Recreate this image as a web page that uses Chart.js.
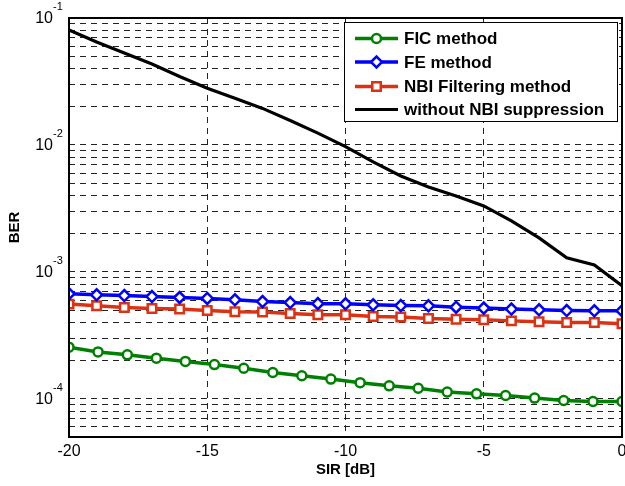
<!DOCTYPE html>
<html>
<head>
<meta charset="utf-8">
<script src="https://cdn.jsdelivr.net/npm/chart.js@4"></script>
<style>
html,body{margin:0;padding:0;background:#fff;}
canvas{display:block;}
</style>
</head>
<body>
<canvas id="c" width="625" height="486"></canvas>
<script>
// ---- data ----
const sirDb = [-20,-19,-18,-17,-16,-15,-14,-13,-12,-11,-10,-9,-8,-7,-6,-5,-4,-3,-2,-1,0];
const ficSir = [-20,-18.95,-17.89,-16.84,-15.79,-14.74,-13.68,-12.63,-11.58,-10.53,-9.47,-8.42,-7.37,-6.32,-5.26,-4.21,-3.16,-2.11,-1.05,0];
const ficBer = [2.55e-4,2.34e-4,2.22e-4,2.09e-4,1.97e-4,1.86e-4,1.74e-4,1.61e-4,1.52e-4,1.43e-4,1.34e-4,1.265e-4,1.21e-4,1.13e-4,1.094e-4,1.062e-4,1.013e-4,9.70e-5,9.53e-5,9.53e-5];
const feBer = [6.71e-4,6.59e-4,6.50e-4,6.39e-4,6.28e-4,6.17e-4,6.02e-4,5.84e-4,5.73e-4,5.62e-4,5.60e-4,5.50e-4,5.43e-4,5.40e-4,5.27e-4,5.18e-4,5.09e-4,5.02e-4,4.96e-4,4.93e-4,4.93e-4];
const nbiBer = [5.57e-4,5.40e-4,5.24e-4,5.14e-4,5.09e-4,4.96e-4,4.86e-4,4.82e-4,4.70e-4,4.59e-4,4.59e-4,4.45e-4,4.40e-4,4.29e-4,4.24e-4,4.19e-4,4.11e-4,4.04e-4,3.99e-4,3.99e-4,3.90e-4];
const noSupBer = [8.04e-2,6.47e-2,5.30e-2,4.34e-2,3.46e-2,2.80e-2,2.33e-2,1.94e-2,1.56e-2,1.24e-2,9.7e-3,7.35e-3,5.70e-3,4.67e-3,3.96e-3,3.31e-3,2.52e-3,1.85e-3,1.29e-3,1.135e-3,7.76e-4];
const seriesNames = ['FIC method','FE method','NBI Filtering method','without NBI suppression'];
const xTicks = [-20,-15,-10,-5,0];
const xTickLabels = ['-20','-15','-10','-5','0'];
const yDecades = [1e-4,1e-3,1e-2,1e-1];
const yDecadeLabels = [['10','-4'],['10','-3'],['10','-2'],['10','-1']];
const yMin = 5e-5, yMax = 1e-1;

const FONT = "'Liberation Sans', Arial, Helvetica, sans-serif";
const GREEN = '#008000', BLUE = '#0000FF', RED = '#DC3214', BLACK = '#000000';

function pts(xs, ys){ return ys.map((y,i)=>({x:xs[i], y:y})); }

function logGridTicks(){
  const t = [];
  for (const d of [1e-5,1e-4,1e-3,1e-2,1e-1]) {
    for (let m=1;m<=9;m++){ const v = +(m*d).toPrecision(3); if (v>=yMin*0.999 && v<=yMax*1.001) t.push({value:v}); }
  }
  return t;
}
function drawShape(ctx, style, r, x, y){
  if (style === 'circle') { ctx.arc(x, y, r, 0, Math.PI*2); }
  else if (style === 'rect') { const s = Math.SQRT1_2*r; ctx.rect(x-s, y-s, 2*s, 2*s); }
  else if (style === 'rectRot') { ctx.moveTo(x-r, y); ctx.lineTo(x, y-r); ctx.lineTo(x+r, y); ctx.lineTo(x, y+r); ctx.closePath(); }
}

const decor = {
  id:'decor',
  afterDraw(chart){
    const ctx = chart.ctx, a = chart.chartArea, ys = chart.scales.y, xs = chart.scales.x;
    ctx.save();
    ctx.strokeStyle = '#000'; ctx.lineWidth = 2; ctx.setLineDash([]);
    ctx.strokeRect(a.left, a.top, a.right-a.left, a.bottom-a.top);
    ctx.fillStyle = '#000';
    // y decade labels with superscript exponents
    yDecades.forEach((v,i)=>{
      const y = ys.getPixelForValue(v);
      ctx.font = '16px ' + FONT; ctx.textAlign = 'right'; ctx.textBaseline = 'middle';
      ctx.fillText(yDecadeLabels[i][0], 53, y+1);
      ctx.font = '11px ' + FONT; ctx.textAlign = 'left'; ctx.textBaseline = 'middle';
      ctx.fillText(yDecadeLabels[i][1], 53, y-11);
    });
    // x tick labels
    ctx.font = '16px ' + FONT; ctx.textAlign = 'center'; ctx.textBaseline = 'middle';
    xTicks.forEach((v,i)=>{ ctx.fillText(xTickLabels[i], xs.getPixelForValue(v), a.bottom + 15); });
    // legend
    const L = 344.5, T = 22.5, R = 617.5, B = 121.5;
    ctx.fillStyle = '#fff'; ctx.fillRect(L, T, R-L, B-T);
    ctx.strokeStyle = '#000'; ctx.lineWidth = 1; ctx.strokeRect(L, T, R-L, B-T);
    const rowsY = [38.5, 62, 86.5, 109.5];
    chart.data.datasets.forEach((ds,i)=>{
      const y = rowsY[i];
      ctx.strokeStyle = ds.borderColor; ctx.lineWidth = ds.borderWidth;
      ctx.beginPath(); ctx.moveTo(355, y); ctx.lineTo(398, y); ctx.stroke();
      if (ds.pointRadius > 0) {
        ctx.fillStyle = '#fff'; ctx.strokeStyle = ds.borderColor; ctx.lineWidth = ds.pointBorderWidth;
        ctx.beginPath(); drawShape(ctx, ds.pointStyle, ds.pointRadius, 376.5, y);
        ctx.fill(); ctx.stroke();
      }
      ctx.fillStyle = '#000'; ctx.font = 'bold 17px ' + FONT; ctx.textAlign = 'left'; ctx.textBaseline = 'middle';
      ctx.fillText(seriesNames[i], 404, y+1);
    });
    ctx.restore();
  }
};

new Chart(document.getElementById('c'), {
  type: 'line',
  data: {
    datasets: [
      { label: seriesNames[0], data: pts(ficSir, ficBer), borderColor: GREEN, backgroundColor: '#fff', borderWidth: 3.5,
        pointStyle: 'circle', pointRadius: 4.5, pointBorderWidth: 2.5, pointBackgroundColor: '#fff', pointBorderColor: GREEN, tension: 0 },
      { label: seriesNames[1], data: pts(sirDb, feBer), borderColor: BLUE, backgroundColor: '#fff', borderWidth: 3.5,
        pointStyle: 'rectRot', pointRadius: 5.5, pointBorderWidth: 2.5, pointBackgroundColor: '#fff', pointBorderColor: BLUE, tension: 0 },
      { label: seriesNames[2], data: pts(sirDb, nbiBer), borderColor: RED, backgroundColor: '#fff', borderWidth: 3.5,
        pointStyle: 'rect', pointRadius: 6, pointBorderWidth: 2.5, pointBackgroundColor: '#fff', pointBorderColor: RED, tension: 0 },
      { label: seriesNames[3], data: pts(sirDb, noSupBer), borderColor: BLACK, backgroundColor: BLACK, borderWidth: 3.2,
        pointRadius: 0, tension: 0 }
    ]
  },
  options: {
    responsive: false, animation: false, devicePixelRatio: 1,
    layout: { autoPadding: false, padding: { top: 18, right: 3, left: 0, bottom: 0 } },
    plugins: { legend: { display: false }, tooltip: { enabled: false } },
    scales: {
      x: {
        type: 'linear', min: -20, max: 0,
        afterBuildTicks: s => { s.ticks = xTicks.map(v=>({value:v})); },
        afterFit: s => { s.height = 49; },
        grid: { color: '#222', lineWidth: 1, drawTicks: false },
        border: { display: false, dash: [6,5] },
        ticks: { display: false },
        title: { display: true, text: 'SIR [dB]', color: '#000', font: { family: FONT, size: 15, weight: 'bold' }, padding: { top: 0, bottom: 7 } }
      },
      y: {
        type: 'logarithmic', min: yMin, max: yMax,
        afterBuildTicks: s => { s.ticks = logGridTicks(); },
        afterFit: s => { s.width = 69; },
        grid: { color: '#222', lineWidth: 1, drawTicks: false },
        border: { display: false, dash: [6,5] },
        ticks: { display: false },
        title: { display: true, text: 'BER', color: '#000', font: { family: FONT, size: 15, weight: 'bold' }, padding: { top: 6, bottom: 0 } }
      }
    }
  },
  plugins: [decor]
});
</script>
</body>
</html>
